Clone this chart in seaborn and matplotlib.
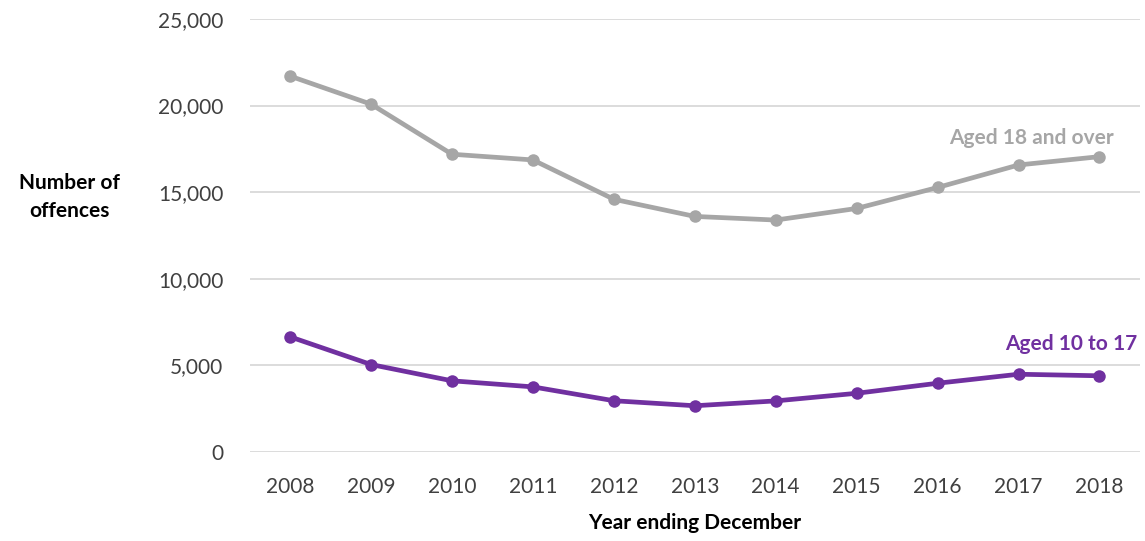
import matplotlib
matplotlib.use("Agg")
import matplotlib.pyplot as plt
import seaborn as sns
import pandas as pd

years = [2008, 2009, 2010, 2011, 2012, 2013, 2014, 2015, 2016, 2017, 2018]
aged_18_over = [21700, 20080, 17190, 16860, 14590, 13600, 13390, 14060, 15270, 16570, 17050]
aged_10_17 = [6650, 5050, 4110, 3760, 2960, 2670, 2950, 3390, 3970, 4490, 4400]
series_names = ["Aged 18 and over", "Aged 10 to 17"]
series_colors = ["#A6A6A6", "#7030A0"]
y_ticks = [0, 5000, 10000, 15000, 20000, 25000]

df = pd.DataFrame({
    "year": years * 2,
    "offences": aged_18_over + aged_10_17,
    "group": [series_names[0]] * len(years) + [series_names[1]] * len(years),
})

sns.set_theme(style="white")
plt.rcParams["font.family"] = ["Lato", "DejaVu Sans"]

fig = plt.figure(figsize=(11.45, 5.41), dpi=100)
ax = fig.add_axes([0.218, 0.1645, 0.7776, 0.8005])

sns.lineplot(data=df, x="year", y="offences", hue="group",
             palette=dict(zip(series_names, series_colors)),
             marker="o", markersize=9, markeredgewidth=0, linewidth=3.4,
             legend=False, ax=ax)

ax.set_xlim(2007.5, 2018.5)
ax.set_ylim(0, 25000)
ax.set_yticks(y_ticks)
ax.set_yticklabels([f"{v:,}" for v in y_ticks])
ax.set_xticks(years)
ax.set_xticklabels([str(y) for y in years])
ax.yaxis.grid(True, color="#D9D9D9", linewidth=1.3)
ax.xaxis.grid(False)
for s in ax.spines.values():
    s.set_visible(False)
ax.tick_params(axis="y", length=0, pad=19, labelsize=15, labelcolor="#404040")
ax.tick_params(axis="x", length=0, pad=18, labelsize=15, labelcolor="#404040")

ax.set_xlabel("Year ending December", fontsize=15, fontweight="bold",
              color="#000000", va="center")
ax.xaxis.set_label_coords(0.5, -0.164)
ax.set_ylabel("")
fig.text(0.061, 0.636, "Number of\noffences", ha="center", va="center",
         fontsize=15, fontweight="bold", color="#000000", linespacing=1.55)

ax.text(2018.18, 18100, series_names[0], ha="right", va="center",
        fontsize=15, fontweight="bold", color="#A6A6A6")
ax.text(2018.47, 6250, series_names[1], ha="right", va="center",
        fontsize=15, fontweight="bold", color="#7030A0")

fig.savefig("out.png", dpi=100, facecolor="white")
